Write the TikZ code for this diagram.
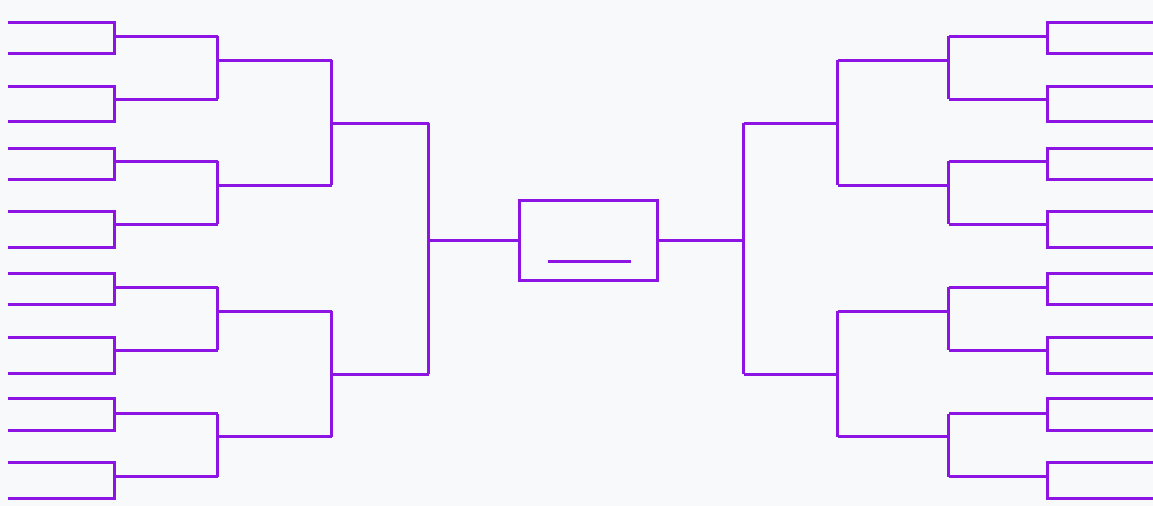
\documentclass[tikz,border=0pt]{standalone}
\definecolor{bg}{RGB}{248,249,251}
\definecolor{br}{RGB}{142,20,228}
\begin{document}
\begin{tikzpicture}[x=1bp,y=-1bp,
  bline/.style={draw=br,line width=2.6bp,line join=miter,line cap=butt}]
\fill[bg] (0,0) rectangle (1153,506);
\useasboundingbox (0,0) rectangle (1153,506);
\begin{scope}[shift={(0.5,0.5)}]
% round 1 pairs -> round 2 lines (left and right)
\foreach \a/\b/\m in {22/53/36, 86/121/99, 148/179/161, 211/247/224,
                      273/304/287, 337/373/350, 398/430/413, 462/498/476} {
  \draw[bline] (7,\a) -- (114,\a) -- (114,\b) -- (7,\b);
  \draw[bline] (114,\m) -- (217,\m);
  \draw[bline] (1153,\a) -- (1047,\a) -- (1047,\b) -- (1153,\b);
  \draw[bline] (1047,\m) -- (948,\m);
}
% round 2 pairs -> round 3 lines
\foreach \a/\b/\m in {36/99/60, 161/224/185, 287/350/311, 413/476/436} {
  \draw[bline] (217,\a) -- (217,\b);
  \draw[bline] (217,\m) -- (331,\m);
  \draw[bline] (948,\a) -- (948,\b);
  \draw[bline] (948,\m) -- (837,\m);
}
% round 3 pairs -> round 4 lines
\foreach \a/\b/\m in {60/185/123, 311/436/374} {
  \draw[bline] (331,\a) -- (331,\b);
  \draw[bline] (331,\m) -- (428,\m);
  \draw[bline] (837,\a) -- (837,\b);
  \draw[bline] (837,\m) -- (743,\m);
}
% semifinal verticals
\coordinate (lsemi) at (428,240);
\coordinate (rsemi) at (743,240);
\draw[bline] (428,123) -- (428,374);
\draw[bline] (743,123) -- (743,374);
% champion box
\node[bline,minimum width=138bp,minimum height=80bp,inner sep=0pt,outer sep=0pt] (champ) at (588,240) {};
\draw[bline] (lsemi) -- (champ.west);
\draw[bline] (champ.east) -- (rsemi);
\coordinate (wl) at (547,261);
\coordinate (wr) at (630,261);
\draw[bline] (wl) -- (wr);
\end{scope}
\end{tikzpicture}
\end{document}
